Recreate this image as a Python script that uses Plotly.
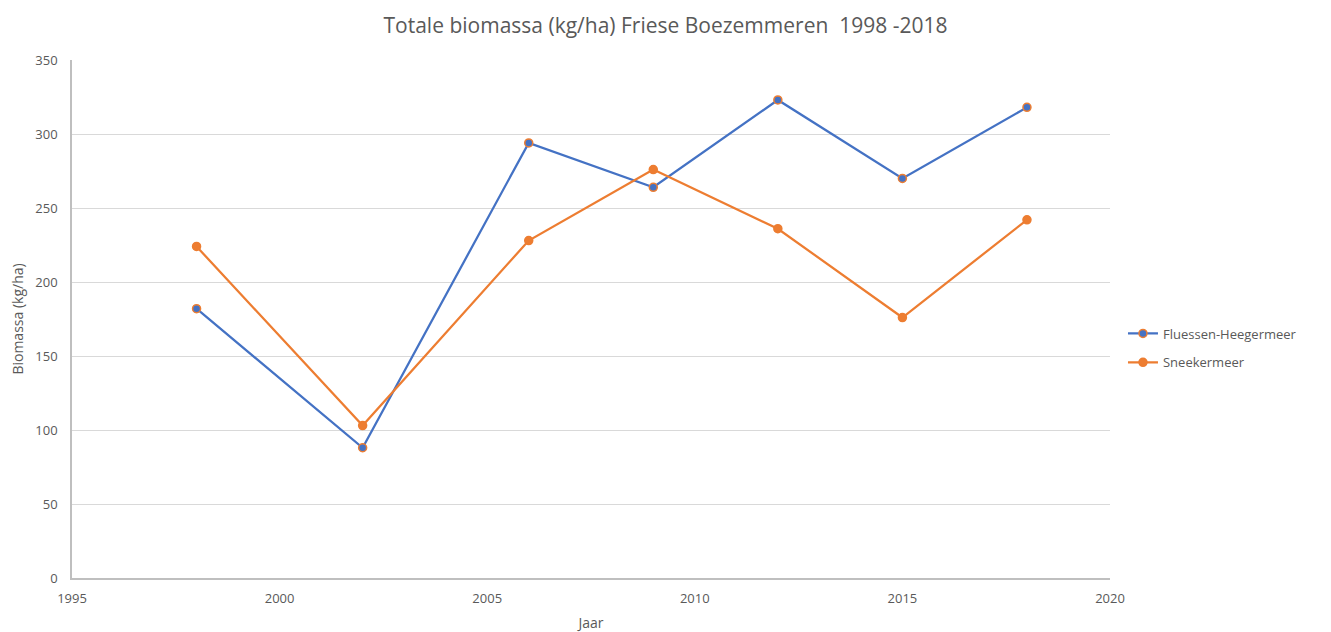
import plotly.graph_objects as go

years = [1998, 2002, 2006, 2009, 2012, 2015, 2018]
fluessen = [182, 88, 294, 264, 323, 270, 318]
sneekermeer = [224, 103, 228, 276, 236, 176, 242]
x_ticks = [1995, 2000, 2005, 2010, 2015, 2020]
y_ticks = [0, 50, 100, 150, 200, 250, 300, 350]

BLUE = "#4472C4"
ORANGE = "#ED7D31"
TXT = "#595959"
FONT = "Open Sans"

fig = go.Figure()
fig.add_trace(go.Scatter(
    x=years, y=fluessen, name="Fluessen-Heegermeer", mode="lines+markers",
    legendgroup="a",
    line=dict(color=BLUE, width=2.25),
    marker=dict(color=BLUE, size=8, line=dict(color=ORANGE, width=1.5)),
))
fig.add_trace(go.Scatter(
    x=years, y=sneekermeer, name="Sneekermeer", mode="lines+markers",
    legendgroup="b",
    line=dict(color=ORANGE, width=2.25),
    marker=dict(color=ORANGE, size=8, line=dict(color=ORANGE, width=1.5)),
))

fig.update_layout(
    width=1331, height=632,
    margin=dict(l=64, r=229, t=52, b=62),
    paper_bgcolor="white", plot_bgcolor="white",
    font=dict(family=FONT, color=TXT, size=13),
    title=dict(text="Totale biomassa (kg/ha) Friese Boezemmeren  1998 -2018",
               x=0.494, xanchor="center", xref="container", y=0.972, yref="container",
               yanchor="middle",
               font=dict(size=21, color=TXT, family=FONT)),
    legend=dict(x=1.0125, xanchor="left", y=0.444, yanchor="middle",
                font=dict(size=13, color=TXT), tracegroupgap=9,
                itemwidth=30),
    showlegend=True,
)
fig.update_xaxes(
    range=[1995, 2020], tickvals=x_ticks, ticktext=[str(t) for t in x_ticks],
    showgrid=False, showline=True, linecolor="#BFBFBF", linewidth=1.5,
    ticks="", zeroline=False, ticklabelstandoff=8, automargin=False,
    title=dict(text="Jaar", font=dict(size=14, color=TXT), standoff=12),
    tickfont=dict(size=13, color=TXT),
)
fig.update_yaxes(
    range=[0, 350], tickvals=y_ticks,
    showgrid=True, gridcolor="#D9D9D9", gridwidth=1,
    showline=True, linecolor="#BFBFBF", linewidth=1.5,
    ticks="", zeroline=False, ticklabelstandoff=10, automargin=False,
    title=dict(text="Biomassa (kg/ha)", font=dict(size=14, color=TXT), standoff=10),
    tickfont=dict(size=13, color=TXT),
)

fig.write_html("out.html")
